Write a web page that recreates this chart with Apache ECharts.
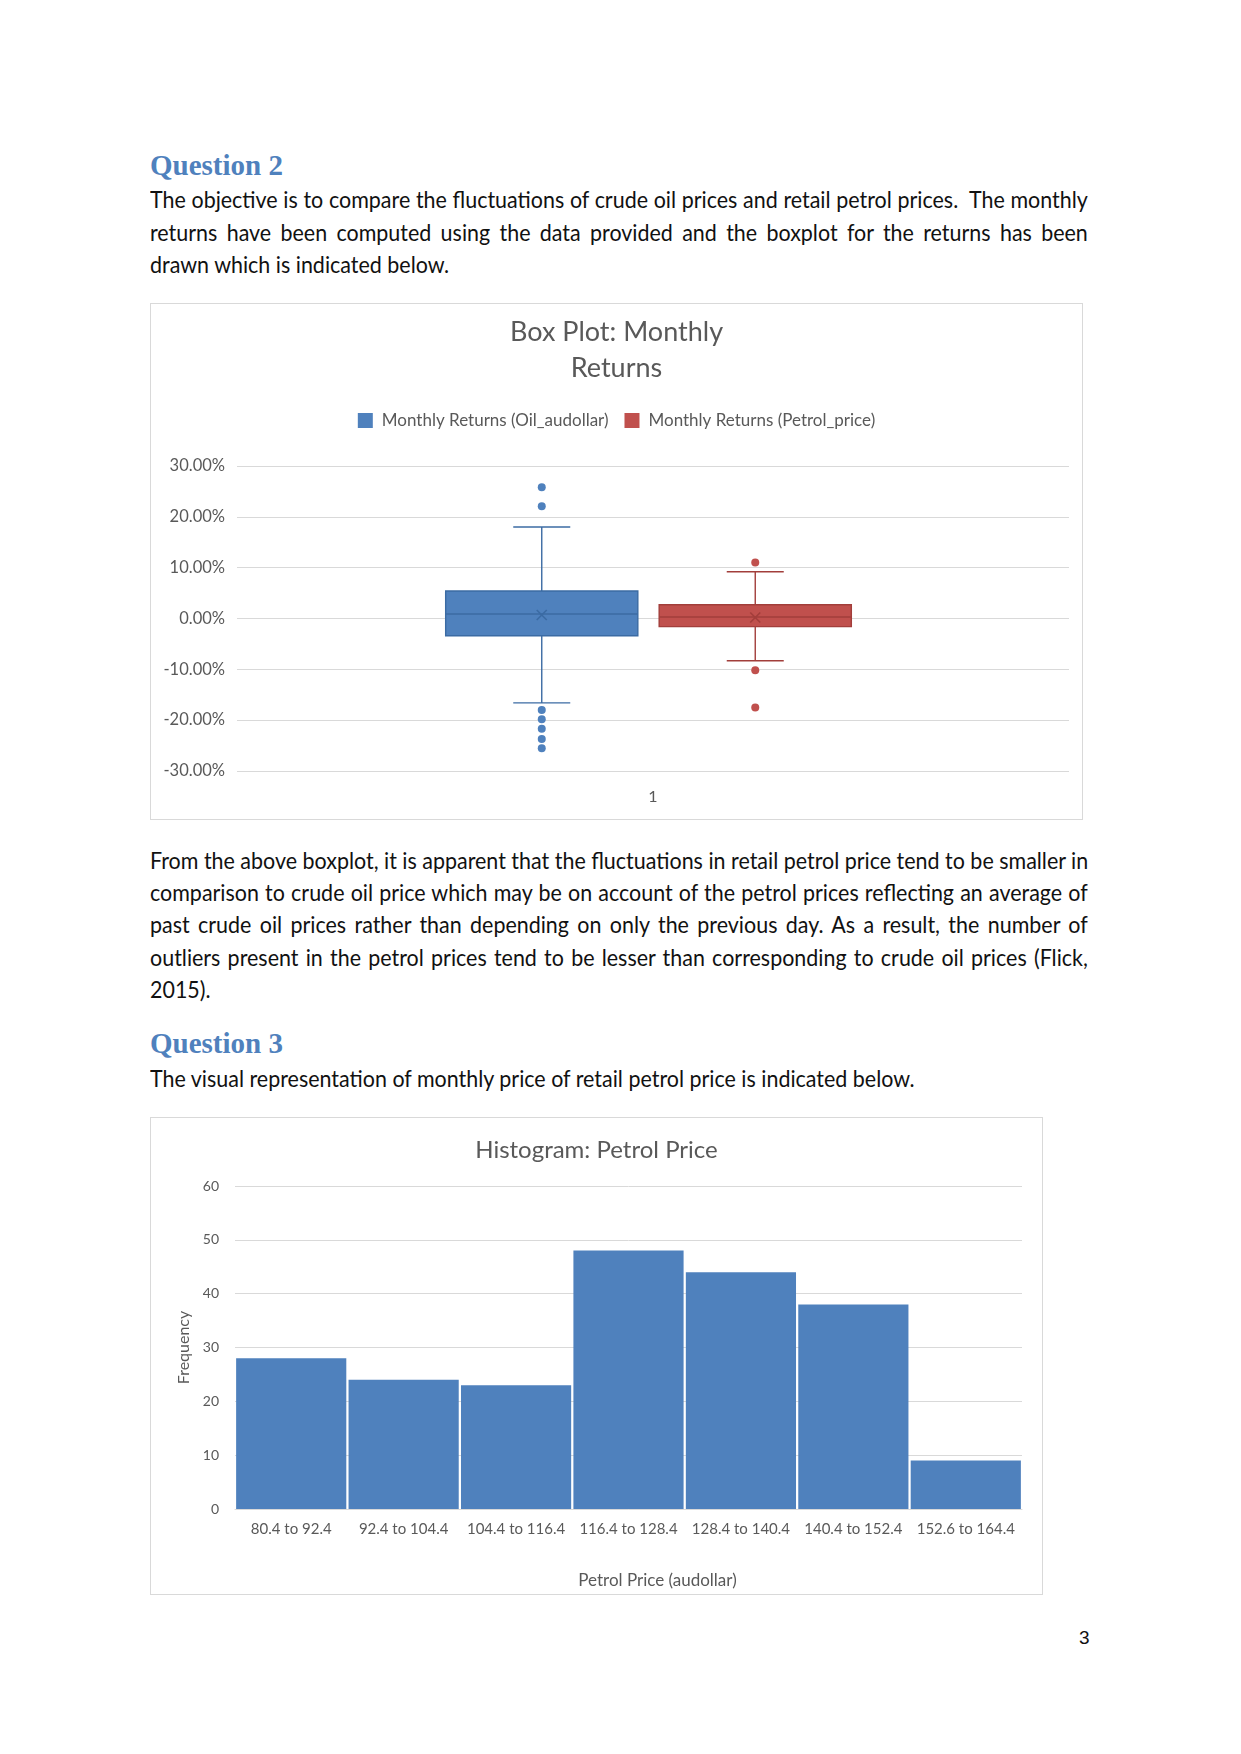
<!DOCTYPE html>
<html>
<head>
<meta charset="utf-8">
<script src="https://cdn.jsdelivr.net/npm/echarts@6/dist/echarts.min.js"></script>
<style>
  html, body { margin: 0; padding: 0; background: #fff; }
  body { width: 1241px; height: 1754px; position: relative; overflow: hidden; font-family: Lato, "Open Sans", sans-serif; color: #111; }
  .h { position: absolute; left: 150px; font-family: "Liberation Serif", serif; font-weight: bold; font-size: 29px; color: #4F81BD; line-height: 32px; }
  .ln { position: absolute; left: 150px; width: 1049px; font-size: 24px; line-height: 32px; transform: scaleX(0.894); transform-origin: left center; text-align: justify; text-align-last: justify; white-space: nowrap; }
  .ln.last { text-align-last: left; }
  .box { position: absolute; border: 1px solid #D9D9D9; box-sizing: border-box; background: #fff; }
  #pg { position: absolute; left: 1079px; top: 1627px; font-family: "Liberation Sans", Arial, sans-serif; font-size: 19px; }
</style>
</head>
<body>
<div class="h" style="top:149px">Question 2</div>
<div class="ln" style="top:183px">The objective is to compare the fluctuations of crude oil prices and retail petrol prices.&nbsp; The monthly</div>
<div class="ln" style="top:216px">returns have been computed using the data provided and the boxplot for the returns has been</div>
<div class="ln last" style="top:248px">drawn which is indicated below.</div>

<div class="box" id="c1" style="left:150px;top:303px;width:933px;height:517px"></div>

<div class="ln" style="top:844px">From the above boxplot, it is apparent that the fluctuations in retail petrol price tend to be smaller in</div>
<div class="ln" style="top:876px">comparison to crude oil price which may be on account of the petrol prices reflecting an average of</div>
<div class="ln" style="top:908px">past crude oil prices rather than depending on only the previous day. As a result, the number of</div>
<div class="ln" style="top:941px">outliers present in the petrol prices tend to be lesser than corresponding to crude oil prices (Flick,</div>
<div class="ln last" style="top:973px">2015).</div>

<div class="h" style="top:1027px">Question 3</div>
<div class="ln last" style="top:1062px">The visual representation of monthly price of retail petrol price is indicated below.</div>

<div class="box" id="c2" style="left:150px;top:1117px;width:893px;height:478px"></div>

<div id="pg">3</div>

<script>
// ---------- Data: box plot ----------
var boxCategories = ['1'];
var seriesNames = ['Monthly Returns (Oil_audollar)', 'Monthly Returns (Petrol_price)'];
// [min whisker, Q1, median, Q3, max whisker, mean] in %
var oilStats = [-16.6, -3.4, 0.9, 5.4, 18.0, 0.7];
var petrolStats = [-8.3, -1.6, 0.3, 2.7, 9.2, 0.2];
var oilOutliers = [25.8, 22.1, -18.0, -19.8, -21.7, -23.7, -25.5];
var petrolOutliers = [11.0, -10.2, -17.5];
var boxYTicks = [-30, -20, -10, 0, 10, 20, 30];

// ---------- Data: histogram ----------
var histCategories = ['80.4 to 92.4', '92.4 to 104.4', '104.4 to 116.4', '116.4 to 128.4', '128.4 to 140.4', '140.4 to 152.4', '152.6 to 164.4'];
var histFrequency = [28, 24, 23, 48, 44, 38, 9];
var histYTicks = [0, 10, 20, 30, 40, 50, 60];

var BLUE = '#4F81BD', BLUE_D = '#3B6BA3';
var RED = '#C0504D', RED_D = '#A23E3B';
var TXT = '#595959', GRID = '#D9D9D9';
var FONT = 'Lato';

function boxRender(fill, stroke) {
  return function (params, api) {
    var x = api.value(0);
    var lo = api.coord([x, api.value(1)]);
    var q1 = api.coord([x, api.value(2)]);
    var md = api.coord([x, api.value(3)]);
    var q3 = api.coord([x, api.value(4)]);
    var hi = api.coord([x, api.value(5)]);
    var mn = api.coord([x, api.value(6)]);
    var band = api.size([1, 0])[0];
    var bw = band * 0.9, cw = band * 0.267;
    var cx = lo[0];
    var ls = { stroke: stroke, lineWidth: 1.4 };
    var m = 5;
    return {
      type: 'group',
      children: [
        { type: 'line', shape: { x1: cx, y1: hi[1], x2: cx, y2: q3[1] }, style: ls },
        { type: 'line', shape: { x1: cx, y1: q1[1], x2: cx, y2: lo[1] }, style: ls },
        { type: 'line', shape: { x1: cx - cw / 2, y1: hi[1], x2: cx + cw / 2, y2: hi[1] }, style: ls },
        { type: 'line', shape: { x1: cx - cw / 2, y1: lo[1], x2: cx + cw / 2, y2: lo[1] }, style: ls },
        { type: 'rect', shape: { x: cx - bw / 2, y: q3[1], width: bw, height: q1[1] - q3[1] }, style: { fill: fill, stroke: stroke, lineWidth: 1.4 } },
        { type: 'line', shape: { x1: cx - bw / 2, y1: md[1], x2: cx + bw / 2, y2: md[1] }, style: { stroke: stroke, lineWidth: 1.6 } },
        { type: 'line', shape: { x1: cx - m, y1: mn[1] - m, x2: cx + m, y2: mn[1] + m }, style: { stroke: stroke, lineWidth: 1.6 } },
        { type: 'line', shape: { x1: cx - m, y1: mn[1] + m, x2: cx + m, y2: mn[1] - m }, style: { stroke: stroke, lineWidth: 1.6 } }
      ]
    };
  };
}

var c1 = echarts.init(document.getElementById('c1'), null, { renderer: 'canvas' });
c1.setOption({
  animation: false,
  title: {
    text: 'Box Plot: Monthly\nReturns',
    left: 'center', top: 5,
    textStyle: { fontFamily: FONT, fontSize: 27, fontWeight: 'normal', color: TXT, lineHeight: 36 }
  },
  legend: {
    data: seriesNames,
    top: 103, left: 'center',
    icon: 'rect', itemWidth: 15, itemHeight: 15, itemGap: 16,
    textStyle: { fontFamily: FONT, fontSize: 17, color: TXT, padding: [0, 0, 0, 4] }
  },
  grid: [
    { left: 86, right: 13, top: 162, bottom: 48 },
    { left: 284, width: 427, top: 162, bottom: 48 }
  ],
  xAxis: [
    { type: 'category', gridIndex: 0, data: boxCategories, axisLine: { show: false }, axisTick: { show: false },
      axisLabel: { fontFamily: FONT, fontSize: 16, color: TXT, margin: 18 } },
    { type: 'category', gridIndex: 1, data: ['Oil', 'Petrol'], show: false }
  ],
  yAxis: [
    { type: 'value', gridIndex: 0, min: -30, max: 30, interval: 10,
      axisLine: { show: false }, axisTick: { show: false },
      splitLine: { lineStyle: { color: GRID, width: 1 } },
      axisLabel: { fontFamily: FONT, fontSize: 16.5, color: TXT, margin: 12, formatter: function (v) { return v.toFixed(2) + '%'; } } },
    { type: 'value', gridIndex: 1, min: -30, max: 30, show: false }
  ],
  series: [
    { name: seriesNames[0], type: 'custom', xAxisIndex: 1, yAxisIndex: 1, itemStyle: { color: BLUE },
      encode: { x: 0, y: [1, 2, 3, 4, 5, 6] },
      renderItem: boxRender(BLUE, BLUE_D), data: [[0].concat(oilStats)] },
    { name: seriesNames[1], type: 'custom', xAxisIndex: 1, yAxisIndex: 1, itemStyle: { color: RED },
      encode: { x: 0, y: [1, 2, 3, 4, 5, 6] },
      renderItem: boxRender(RED, RED_D), data: [[1].concat(petrolStats)] },
    { name: seriesNames[0], type: 'scatter', xAxisIndex: 1, yAxisIndex: 1, symbolSize: 8, itemStyle: { color: BLUE, opacity: 1 },
      data: oilOutliers.map(function (v) { return [0, v]; }) },
    { name: seriesNames[1], type: 'scatter', xAxisIndex: 1, yAxisIndex: 1, symbolSize: 8, itemStyle: { color: RED, opacity: 1 },
      data: petrolOutliers.map(function (v) { return [1, v]; }) }
  ]
});

var c2 = echarts.init(document.getElementById('c2'), null, { renderer: 'canvas' });
c2.setOption({
  animation: false,
  title: {
    text: 'Histogram: Petrol Price',
    left: 'center', top: 15,
    textStyle: { fontFamily: FONT, fontSize: 24, fontWeight: 'normal', color: TXT }
  },
  grid: { left: 84, right: 20, top: 68, bottom: 84 },
  xAxis: {
    type: 'category', data: histCategories,
    name: 'Petrol Price (audollar)', nameLocation: 'middle', nameGap: 63,
    nameTextStyle: { fontFamily: FONT, fontSize: 17, color: TXT, padding: [0, 0, 0, 58] },
    axisLine: { lineStyle: { color: GRID } }, axisTick: { show: false },
    axisLabel: { fontFamily: FONT, fontSize: 15, color: TXT, margin: 13, interval: 0 }
  },
  yAxis: {
    type: 'value', min: 0, max: 60, interval: 10,
    name: 'Frequency', nameLocation: 'middle', nameGap: 41, nameRotate: 90,
    nameTextStyle: { fontFamily: FONT, fontSize: 16, color: TXT },
    axisLine: { show: false }, axisTick: { show: false },
    splitLine: { lineStyle: { color: GRID } },
    axisLabel: { fontFamily: FONT, fontSize: 14, color: TXT, margin: 16 }
  },
  series: [{
    type: 'bar', data: histFrequency, barCategoryGap: '2%',
    itemStyle: { color: BLUE }
  }]
});
</script>
</body>
</html>
